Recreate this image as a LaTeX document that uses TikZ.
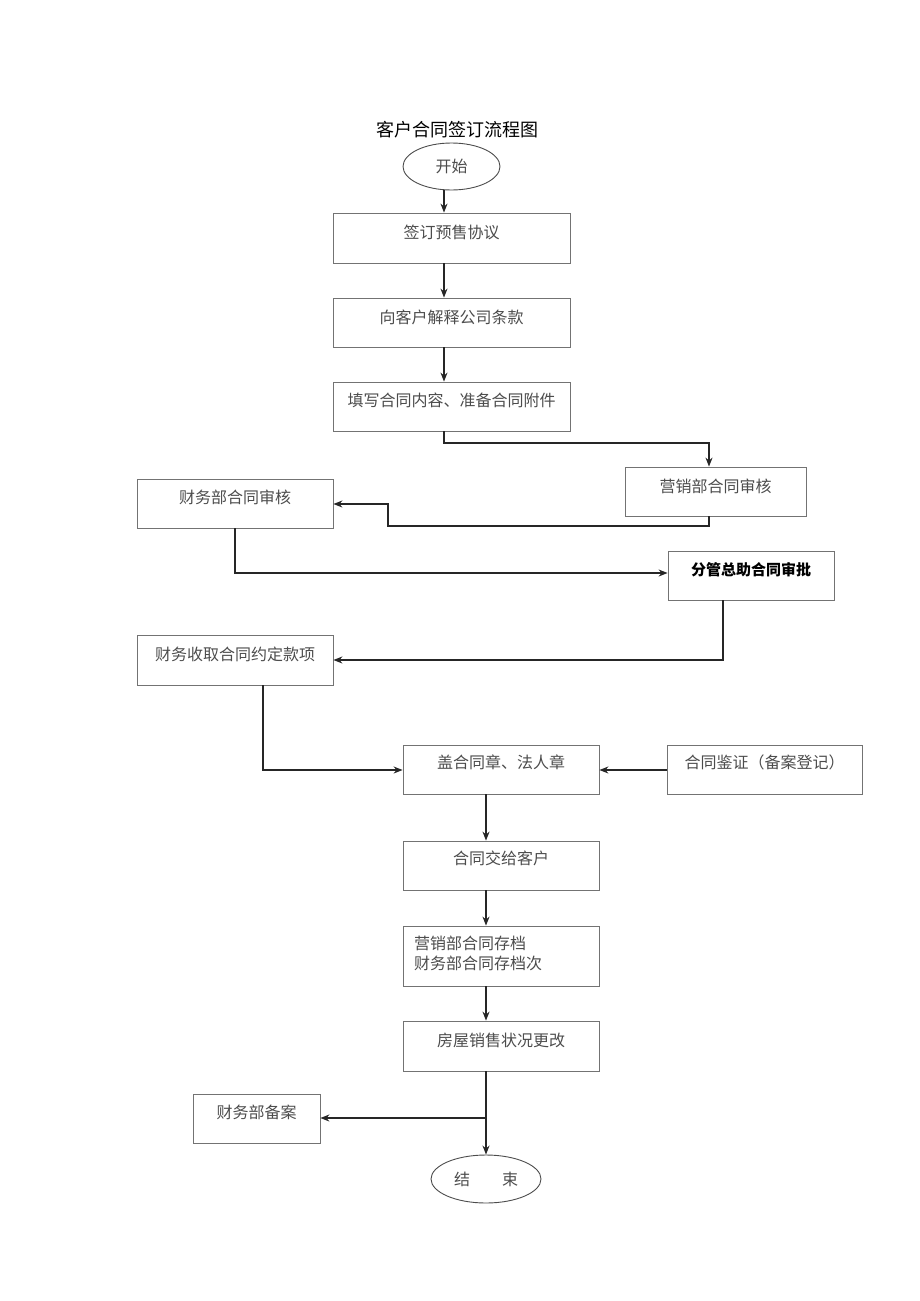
\documentclass[tikz,border=0pt]{standalone}
\usepackage{fontspec}
\setmainfont{Noto Sans CJK SC}
\newfontfamily\cjk{Noto Sans CJK SC}
\usetikzlibrary{shapes.geometric,arrows.meta}
\begin{document}
\begin{tikzpicture}[x=1pt,y=-1pt,
  box/.style={draw=black!55,line width=0.8pt,rectangle,inner sep=0pt},
  oval/.style={draw=black!70,line width=0.9pt,ellipse,inner sep=0pt},
  txt/.style={font=\cjk\fontsize{16}{20}\selectfont,text=black!70,inner sep=0pt},
  conn/.style={draw=black!85,line width=1.4pt,-{Stealth[length=9pt,width=7pt]}},
  seg/.style={draw=black!85,line width=1.4pt}]
\useasboundingbox (0,0) rectangle (920,1301);
\node[font=\cjk\fontsize{18}{22}\selectfont,inner sep=0pt] (title) at (457,130) {客户合同签订流程图};
\node[oval,minimum width=97,minimum height=47] (start) at (451.5,166.5) {};
\node[txt] (tstart) at (451.5,166) {开始};
\node[box,minimum width=237,minimum height=50] (b1) at (451.5,238) {};
\node[txt] (t1) at (451.5,232) {签订预售协议};
\node[box,minimum width=237,minimum height=49] (b2) at (451.5,322.5) {};
\node[txt] (t2) at (451.5,317) {向客户解释公司条款};
\node[box,minimum width=237,minimum height=49] (b3) at (451.5,406.5) {};
\node[txt] (t3) at (451.5,400) {填写合同内容、准备合同附件};
\node[box,minimum width=181,minimum height=49] (b4) at (715.5,491.5) {};
\node[txt] (t4) at (715.5,486) {营销部合同审核};
\node[box,minimum width=196,minimum height=49] (b5) at (235,503.5) {};
\node[txt] (t5) at (235,497) {财务部合同审核};
\node[box,minimum width=166,minimum height=49] (b6) at (751,575.5) {};
\node[txt,text=black,font=\cjk\bfseries\fontsize{15}{19}\selectfont] (t6) at (751,570) {分管总助合同审批};
\node[box,minimum width=196,minimum height=50] (b7) at (235,660) {};
\node[txt] (t7) at (235,654) {财务收取合同约定款项};
\node[box,minimum width=196,minimum height=49] (b8) at (501,769.5) {};
\node[txt] (t8) at (501,762) {盖合同章、法人章};
\node[box,minimum width=195,minimum height=49] (b9) at (764.5,769.5) {};
\node[txt] (t9) at (764.5,762) {合同鉴证（备案登记）};
\node[box,minimum width=196,minimum height=49] (b10) at (501,865.5) {};
\node[txt] (t10) at (501,858) {合同交给客户};
\node[box,minimum width=196,minimum height=60] (b11) at (501,956) {};
\node[txt,align=left,anchor=west] (t11) at (414,953) {营销部合同存档\\财务部合同存档次};
\node[box,minimum width=196,minimum height=50] (b12) at (501,1046) {};
\node[txt] (t12) at (501,1040) {房屋销售状况更改};
\node[box,minimum width=127,minimum height=49] (b13) at (256.5,1118.5) {};
\node[txt] (t13) at (256.5,1112) {财务部备案};
\node[oval,minimum width=110,minimum height=48] (end) at (486,1179) {};
\node[txt] (tend) at (486,1179) {结\hspace{2em}束};
\coordinate (j1) at (486,1118);
% connectors
\draw[conn] (start.south -| 444,0) -- (b1.north -| 444,0);
\draw[conn] (b1.south -| 444,0) -- (b2.north -| 444,0);
\draw[conn] (b2.south -| 444,0) -- (b3.north -| 444,0);
\draw[conn] (b3.south -| 444,0) -- (444,443) -- (709,443) -- (b4.north -| 709,0);
\draw[conn] (b4.south -| 709,0) -- (709,526) -- (388,526) -- (388,504) -- (b5.east |- 0,504);
\draw[conn] (b5.south -| 235,0) -- (235,573) -- (b6.west |- 0,573);
\draw[conn] (b6.south -| 723,0) -- (723,660) -- (b7.east |- 0,660);
\draw[conn] (b7.south -| 263,0) -- (263,770) -- (b8.west |- 0,770);
\draw[conn] (b9.west |- 0,770) -- (b8.east |- 0,770);
\draw[conn] (b8.south -| 486,0) -- (b10.north -| 486,0);
\draw[conn] (b10.south -| 486,0) -- (b11.north -| 486,0);
\draw[conn] (b11.south -| 486,0) -- (b12.north -| 486,0);
\draw[conn] (b12.south -| 486,0) -- (end.north);
\draw[conn] (j1) -- (b13.east |- j1);
\end{tikzpicture}
\end{document}
